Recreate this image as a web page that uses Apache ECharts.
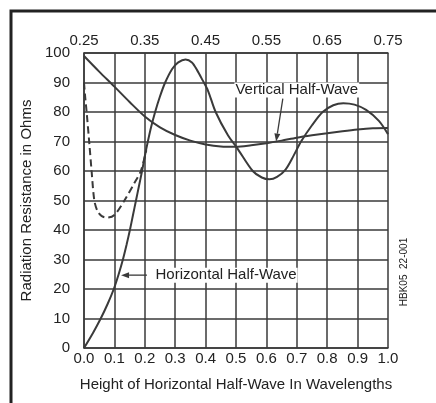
<!DOCTYPE html>
<html><head><meta charset="utf-8">
<script src="https://cdn.jsdelivr.net/npm/echarts@6/dist/echarts.min.js"></script>
<style>html,body{margin:0;padding:0;background:#fff}#c{width:436px;height:403px}</style>
</head><body><div id="c"></div>
<script>
// Horizontal half-wave (solid)
const horizHeight = [0, 0.03, 0.055, 0.078, 0.098, 0.114, 0.128, 0.14, 0.151, 0.161, 0.171, 0.181, 0.191, 0.2, 0.21, 0.221, 0.234, 0.249, 0.267, 0.29, 0.31, 0.334, 0.355, 0.372, 0.39, 0.408, 0.433, 0.473, 0.505, 0.555, 0.585, 0.61, 0.635, 0.663, 0.69, 0.714, 0.75, 0.785, 0.82, 0.853, 0.89, 0.928, 0.97, 1.0];
const horizOhms   = [0, 5.2, 10, 15, 20, 25, 30, 35, 40, 45, 50, 55, 60, 65, 70, 75, 80, 85, 90, 94.6, 96.8, 97.8, 96.8, 94.2, 90.8, 87.2, 80, 72.2, 67.6, 60, 57.8, 57.2, 58, 60.5, 65.3, 70, 75.5, 80, 82.3, 83, 82.5, 80.7, 77, 72.5];
// Horizontal half-wave, dashed curve
const dashHeight = [0, 0.004, 0.009, 0.017, 0.025, 0.034, 0.045, 0.06, 0.077, 0.1, 0.133, 0.165, 0.187, 0.205];
const dashOhms   = [90, 85, 79.6, 70, 60, 50, 46.3, 44.6, 44.2, 45.1, 50, 55.8, 60, 67];
// Vertical half-wave (solid)
const vertHeight = [0, 0.05, 0.1, 0.15, 0.2, 0.25, 0.3, 0.35, 0.4, 0.45, 0.5, 0.55, 0.6, 0.65, 0.7, 0.75, 0.8, 0.85, 0.9, 0.95, 1.0];
const vertOhms   = [99, 93.7, 88.6, 83.4, 78.5, 74.8, 72.2, 70.3, 69, 68.3, 68.2, 68.7, 69.4, 70.3, 71.3, 72.1, 72.8, 73.5, 74.1, 74.5, 74.6];

const yTitle = 'Radiation Resistance in Ohms';
const xTitle = 'Height of Horizontal Half-Wave In Wavelengths';
const vertLabel = 'Vertical Half-Wave';
const horizLabel = 'Horizontal Half-Wave';
const figId = 'HBK05  22-001';

const zip = (a, b) => a.map((v, i) => [v, b[i]]);
const FONT = '"Liberation Sans", Arial, sans-serif';
const INK = '#222';
const LINE = '#3a3a3a';

const chart = echarts.init(document.getElementById('c'), null, {renderer: 'canvas'});
chart.setOption({
  animation: false,
  backgroundColor: '#fff',
  grid: {left: 84, right: 48, top: 53, bottom: 55},
  xAxis: [{
    type: 'value', min: 0, max: 1, interval: 0.1, position: 'bottom',
    axisLine: {show: true, onZero: false, lineStyle: {color: LINE, width: 1.5}},
    axisTick: {show: false},
    axisLabel: {margin: 3, fontSize: 15, color: INK, fontFamily: FONT, formatter: v => v.toFixed(1)},
    splitLine: {show: true, lineStyle: {color: LINE, width: 1.5}},
    name: xTitle, nameLocation: 'middle', nameGap: 29,
    nameTextStyle: {fontSize: 15, color: INK, fontFamily: FONT}
  }, {
    type: 'value', min: 0.25, max: 0.75, interval: 0.1, position: 'top',
    axisLine: {show: true, onZero: false, lineStyle: {color: LINE, width: 1.5}},
    axisTick: {show: false},
    axisLabel: {margin: 5, fontSize: 15, color: INK, fontFamily: FONT, formatter: v => v.toFixed(2)},
    splitLine: {show: false}
  }],
  yAxis: {
    type: 'value', min: 0, max: 100, interval: 10,
    axisLine: {show: true, lineStyle: {color: LINE, width: 1.5}},
    axisTick: {show: false},
    axisLabel: {margin: 14, fontSize: 15, color: INK, fontFamily: FONT},
    splitLine: {show: true, lineStyle: {color: LINE, width: 1.5}},
    name: yTitle, nameLocation: 'middle', nameGap: 36,
    nameTextStyle: {fontSize: 15, color: INK, fontFamily: FONT}
  },
  series: [{
    type: 'line', name: horizLabel, data: zip(horizHeight, horizOhms), smooth: 0.3,
    symbol: 'none', lineStyle: {color: LINE, width: 2}, z: 5
  }, {
    type: 'line', name: 'dashed', data: zip(dashHeight, dashOhms), smooth: 0.3,
    symbol: 'none', lineStyle: {color: LINE, width: 2, type: [7, 4]}, z: 5
  }, {
    type: 'line', name: vertLabel, data: zip(vertHeight, vertOhms), smooth: 0.3,
    symbol: 'none', lineStyle: {color: LINE, width: 2}, z: 5
  }]
});

const px = p => chart.convertToPixel({gridIndex: 0}, p);
function arrow(from, to) {
  const a = px(from), b = px(to);
  const dx = b[0] - a[0], dy = b[1] - a[1], L = Math.hypot(dx, dy);
  const ux = dx / L, uy = dy / L, len = 8, w = 3;
  const bx = b[0] - ux * len, by = b[1] - uy * len;
  return [
    {type: 'line', shape: {x1: a[0], y1: a[1], x2: bx, y2: by}, style: {stroke: LINE, lineWidth: 1.3}, z: 21},
    {type: 'polygon', shape: {points: [[b[0], b[1]], [bx - uy * w, by + ux * w], [bx + uy * w, by - ux * w]]}, style: {fill: LINE}, z: 21}
  ];
}
const pV = px([0.70, 87.5]);
const pH = px([0.232, 24.7]);
chart.setOption({
  graphic: [
    {type: 'rect', shape: {x: 11, y: 11, width: 440, height: 420}, style: {fill: 'none', stroke: INK, lineWidth: 3}, z: 0},
    {type: 'text', x: pV[0], y: pV[1], style: {text: vertLabel, fontSize: 15, fontFamily: FONT, fill: INK, align: 'center', verticalAlign: 'middle', backgroundColor: '#fff', padding: [0, 1]}, z: 20},
    {type: 'text', x: pH[0], y: pH[1], style: {text: horizLabel, fontSize: 15, fontFamily: FONT, fill: INK, align: 'left', verticalAlign: 'middle', backgroundColor: '#fff', padding: [0, 1]}, z: 20},
    {type: 'text', x: 404, y: 272, rotation: Math.PI / 2, style: {text: figId, fontSize: 10, fontFamily: FONT, fill: INK, align: 'center', verticalAlign: 'middle'}, z: 20},
    ...arrow([0.207, 24.7], [0.122, 24.7]),
    ...arrow([0.654, 84.5], [0.632, 70.0])
  ]
});
</script></body></html>
